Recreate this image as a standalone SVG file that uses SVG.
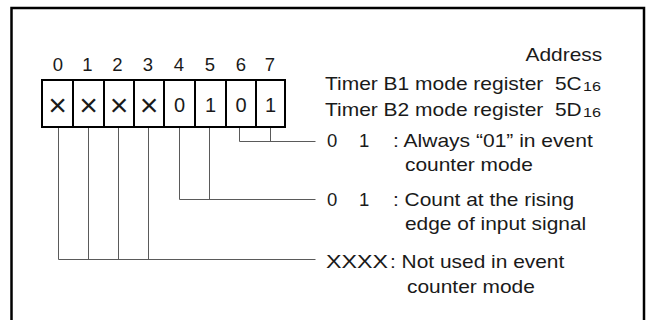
<svg xmlns="http://www.w3.org/2000/svg" width="647" height="320" viewBox="0 0 647 320">
<style>
text{font-family:"Liberation Sans",Arial,sans-serif;fill:#1a1a1a}
.t{font-size:18.5px}
.n{font-size:18.5px;text-anchor:middle}
.c{font-size:20px;text-anchor:middle}
.x{font-size:32px;text-anchor:middle}
.s{font-size:12.5px}
.cell{fill:#fff;stroke:#000;stroke-width:2}
.ln{fill:none;stroke:#5a5a5a;stroke-width:1}
</style>
<rect x="0" y="0" width="647" height="320" fill="#fff"/>
<rect x="11.5" y="8" width="632.5" height="330" fill="#fff" stroke="#000" stroke-width="2.5"/>
<g id="header">
<text class="t" x="525.5" y="61" textLength="76.7" lengthAdjust="spacingAndGlyphs">Address</text>
<text class="t" x="325" y="90" textLength="218.3" lengthAdjust="spacingAndGlyphs">Timer B1 mode register</text>
<text class="t" x="555" y="90" textLength="26.7" lengthAdjust="spacingAndGlyphs">5C</text>
<text class="s" x="583" y="91" textLength="18" lengthAdjust="spacingAndGlyphs">16</text>
<text class="t" x="325" y="116" textLength="218.3" lengthAdjust="spacingAndGlyphs">Timer B2 mode register</text>
<text class="t" x="555" y="116" textLength="26.7" lengthAdjust="spacingAndGlyphs">5D</text>
<text class="s" x="583" y="117" textLength="18" lengthAdjust="spacingAndGlyphs">16</text>
</g>
<g id="bit-numbers">
<text class="n" x="58" y="71">0</text>
<text class="n" x="87.5" y="71">1</text>
<text class="n" x="117.5" y="71">2</text>
<text class="n" x="148" y="71">3</text>
<text class="n" x="179" y="71">4</text>
<text class="n" x="210" y="71">5</text>
<text class="n" x="241" y="71">6</text>
<text class="n" x="270" y="71">7</text>
</g>
<g id="register">
<rect class="cell" x="42" y="80" width="243" height="47"/>
<path class="cell" d="M73 80V127M104 80V127M134 80V127M164 80V127M195 80V127M226 80V127M256 80V127"/>
<text class="x" x="57.5" y="116">×</text>
<text class="x" x="88.5" y="116">×</text>
<text class="x" x="119" y="116">×</text>
<text class="x" x="149" y="116">×</text>
<text class="c" x="179.5" y="112">0</text>
<text class="c" x="210.5" y="112">1</text>
<text class="c" x="241" y="112">0</text>
<text class="c" x="270.5" y="112">1</text>
</g>
<g id="connectors">
<path class="ln" d="M239.5 128V141.5H315.5M270.5 128V141.5"/>
<path class="ln" d="M179.5 128V199.5H315.5M209.5 128V199.5"/>
<path class="ln" d="M58.5 128V259.5H315.5M88.5 128V259.5M118.5 128V259.5M148.5 128V259.5"/>
</g>
<g id="legend-bits67">
<text class="t" x="327" y="147">0</text>
<text class="t" x="359" y="147">1</text>
<text class="t" x="393" y="147" textLength="199.8" lengthAdjust="spacingAndGlyphs">: Always “01” in event</text>
<text class="t" x="405" y="171" textLength="127.8" lengthAdjust="spacingAndGlyphs">counter mode</text>
</g>
<g id="legend-bits45">
<text class="t" x="327" y="206">0</text>
<text class="t" x="359" y="206">1</text>
<text class="t" x="393" y="206" textLength="181.2" lengthAdjust="spacingAndGlyphs">: Count at the rising</text>
<text class="t" x="405" y="230" textLength="181.2" lengthAdjust="spacingAndGlyphs">edge of input signal</text>
</g>
<g id="legend-bits03">
<text class="t" x="326" y="268" textLength="62" lengthAdjust="spacingAndGlyphs">XXXX</text>
<text class="t" x="390" y="268" textLength="174.3" lengthAdjust="spacingAndGlyphs">: Not used in event</text>
<text class="t" x="407" y="293" textLength="127.8" lengthAdjust="spacingAndGlyphs">counter mode</text>
</g>
</svg>
